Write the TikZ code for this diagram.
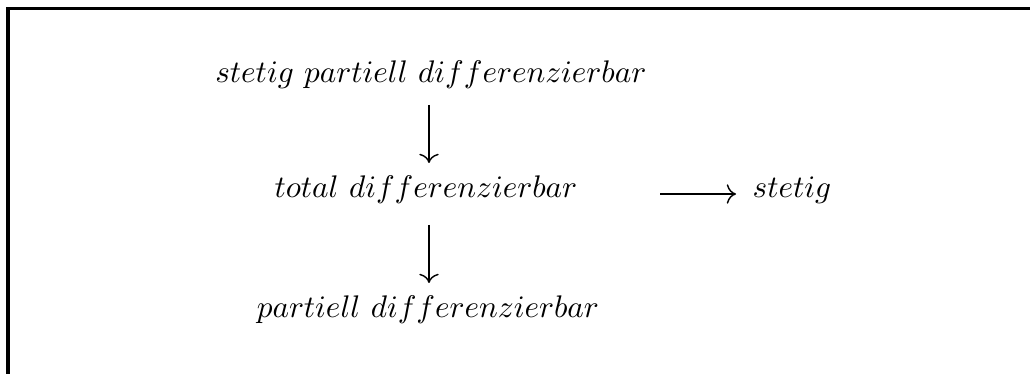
\documentclass[tikz,border=0pt]{standalone}
\usetikzlibrary{arrows.meta}
\begin{document}
\begin{tikzpicture}[x=0.35pt,y=-0.35pt,
  lbl/.style={inner sep=0pt,anchor=center,scale=1.094},
  arr/.style={-{To[scale=1.2]},line width=0.5pt},
  frame/.style={line width=1.1pt}]
\useasboundingbox (0,0) rectangle (1030,374);
\clip (0,0) rectangle (1030,374);
\draw[frame] (8,1000) -- (8,8.5) -- (1100,8.5);
\node[lbl] (top) at (431,75) {$stetig\ partiell\ differenzierbar$};
\node[lbl] (mid) at (426,190) {$total\ differenzierbar$};
\node[lbl] (bot) at (428,310) {$partiell\ differenzierbar$};
\node[lbl] (st) at (792,190) {$stetig$};
\coordinate (a1) at (429,105);
\coordinate (a2) at (429,163);
\coordinate (b1) at (429,225);
\coordinate (b2) at (429,283);
\coordinate (c1) at (660,194);
\coordinate (c2) at (736,194);
\draw[arr] (a1) -- (a2);
\draw[arr] (b1) -- (b2);
\draw[arr] (c1) -- (c2);
\end{tikzpicture}
\end{document}
